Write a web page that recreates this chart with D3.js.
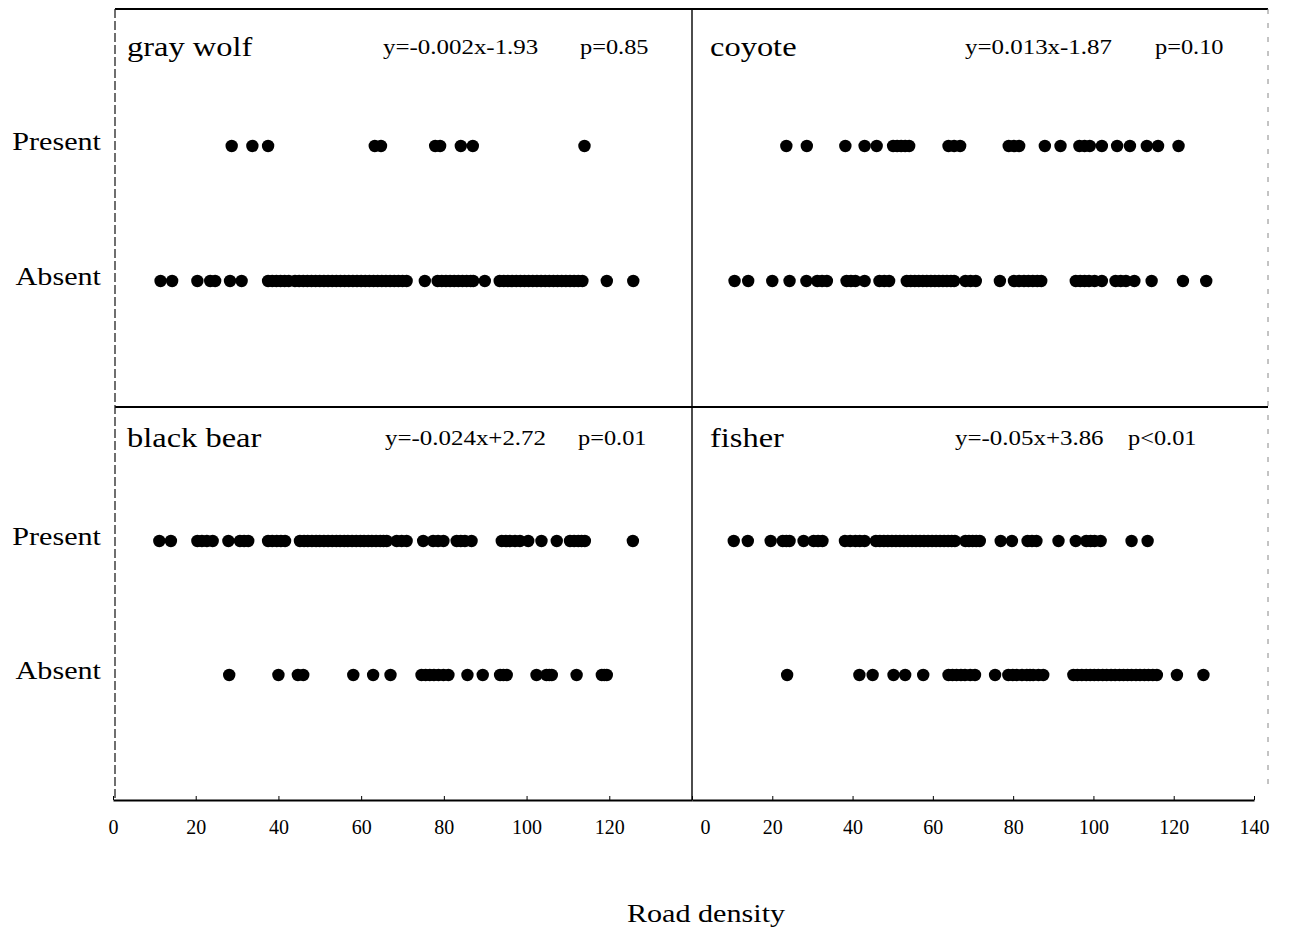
<!DOCTYPE html>
<html>
<head>
<meta charset="utf-8">
<script src="https://cdn.jsdelivr.net/npm/d3@7"></script>
<style>
  html, body { margin: 0; padding: 0; background: #fff; }
  svg { display: block; }
  text { font-family: "Liberation Serif", "Times New Roman", serif; fill: #000; }
</style>
</head>
<body>
<svg id="chart" width="1301" height="932"></svg>
<script>
// Road density at sites where each species was detected (Present) or not (Absent)
const xTicks = [0, 20, 40, 60, 80, 100, 120, 140];
const rowLabels = ["Present", "Absent"];
const speciesNames = ["gray wolf", "coyote", "black bear", "fisher"];
const equations = ["y=-0.002x-1.93", "y=0.013x-1.87", "y=-0.024x+2.72", "y=-0.05x+3.86"];
const pValues = ["p=0.85", "p=0.10", "p=0.01", "p<0.01"];

const grayWolfPresent = [28.7, 33.7, 37.5, 63.3, 64.8, 77.9, 79.1, 84.1, 87.0, 114.0];
const grayWolfAbsent = [11.5, 14.3, 20.4, 23.5, 24.7, 28.3, 31.1,
  37.5, 38.5, 39.5, 40.5, 41.5, 42.5,
  44, 45, 46, 47, 48, 49, 50, 51, 52, 53, 54, 55, 56, 57, 58, 59, 60,
  61, 62, 63, 64, 65, 66, 67, 68, 69, 70, 71,
  75.4, 78.5, 79.5, 80.5, 81.5, 82.5, 83.5, 84.5, 85.5, 86.5, 87.1, 89.9,
  93.5, 94.5, 95.5, 96.5, 97.5, 98.5, 99.5, 100.5, 101.5, 102.5, 103.5, 104.5, 105.5,
  106.5, 107.5, 108.5, 109.5, 110.5, 111.5, 112.5, 113.5, 119.4, 125.8];

const coyotePresent = [23.5, 28.6, 38.2, 43.0, 46.0, 50.1, 51.1, 52.1, 53.1, 54.1, 63.9, 65.3, 66.8,
  78.9, 80.2, 81.5, 87.9, 91.8, 96.5, 97.8, 99.1, 102.1, 105.9, 109.1, 113.3, 116.1, 121.2];
const coyoteAbsent = [10.6, 14.0, 20.0, 24.3, 28.5, 31.2, 32.4, 33.6, 38.5, 39.6, 40.7, 43.0,
  46.7, 47.9, 49.1,
  53.5, 54.5, 55.5, 56.5, 57.5, 58.5, 59.5, 60.5, 61.5, 62.5, 63.5, 64.5, 65.3,
  68.1, 69.4, 70.7, 76.7, 80.2, 81.5, 82.7, 83.8, 84.9, 86.0, 87.0,
  95.6, 96.7, 97.8, 98.9, 100.3, 102.1, 105.5, 106.8, 108.1, 110.2, 114.5, 122.3, 128.1];

const blackBearPresent = [11.2, 14.0, 20.4, 21.5, 22.7, 24.1, 27.9, 30.7, 31.7, 32.7,
  37.5, 38.5, 39.6, 40.6, 41.6,
  45.2, 46.2, 47.1, 48.1, 49.1, 50.0, 51.0, 52.0, 53.0, 54.0, 54.9, 55.9, 56.8, 57.8,
  58.8, 59.8, 60.7, 61.7, 62.6, 63.6, 64.6, 65.4, 66.2, 68.6, 69.8, 71.0,
  75.0, 77.4, 78.6, 79.9, 83.1, 84.1, 85.1, 86.7, 94.0, 95.0, 96.0, 97.2, 98.4,
  100.4, 103.6, 107.3, 110.5, 111.5, 112.5, 113.3, 114.1, 125.7];
const blackBearAbsent = [28.1, 40.0, 44.7, 46.0, 58.1, 62.9, 67.1, 74.6, 75.6, 76.6, 77.6,
  78.7, 79.9, 81.1, 85.7, 89.4, 93.6, 94.4, 95.2, 102.4, 104.8, 105.5, 106.1, 112.1,
  118.2, 118.8, 119.4];

const fisherPresent = [10.4, 13.9, 19.6, 22.6, 23.5, 24.3, 27.8, 30.3, 31.4, 32.5,
  38.1, 39.4, 40.7, 41.8, 43.0,
  45.8, 46.8, 47.8, 48.8, 49.8, 50.8, 51.8, 52.8, 53.8, 54.8, 55.8, 56.8, 57.8, 58.8,
  59.8, 60.8, 61.8, 62.8, 63.8, 64.7, 65.5, 68.1, 69.0, 69.9, 70.8, 71.7,
  76.9, 79.7, 83.6, 84.7, 85.8, 91.3, 95.6, 98.2, 99.3, 100.3, 101.8, 109.5, 113.5];
const fisherAbsent = [23.7, 41.7, 45.0, 50.2, 53.1, 57.6, 63.9, 64.9, 65.9, 67.0, 68.0,
  69.3, 70.5, 75.5, 78.8, 79.9, 80.9, 82.2, 83.4, 84.2, 85.0, 86.3, 87.5,
  95.0, 96.0, 97.1, 98.2, 99.2, 100.2, 101.2, 102.3, 103.3, 104.4, 105.4, 106.5,
  107.5, 108.5, 109.5, 110.6, 111.6, 112.7, 113.7, 114.8, 115.8, 120.8, 127.4];

const presentSets = [grayWolfPresent, coyotePresent, blackBearPresent, fisherPresent];
const absentSets = [grayWolfAbsent, coyoteAbsent, blackBearAbsent, fisherAbsent];

// ---- layout ----
const svg = d3.select("#chart");
const frameLeft = 115, frameMid = 692, frameRight = 1268;
const frameTop = 9, frameMidY = 407, axisY = 800;
const stretch = 1.16; // wide Times-style lettering

const xLeft = d3.scaleLinear().domain([0, 140]).range([113, 692]);
const xRight = d3.scaleLinear().domain([0, 140]).range([692, 1254]);

// text drawn with a horizontal stretch; anchor "start" or "end" or "middle"
function wideText(parent, x, y, str, size, anchor = "start") {
  return parent.append("text")
    .attr("transform", `translate(${x},${y}) scale(${stretch},1)`)
    .attr("text-anchor", anchor)
    .attr("font-size", size)
    .text(str);
}

const panels = speciesNames.map((name, i) => ({
  name,
  eq: equations[i],
  p: pValues[i],
  present: presentSets[i],
  absent: absentSets[i],
  x: i % 2 === 0 ? xLeft : xRight,
  top: i < 2 ? frameTop : frameMidY,
  col: i % 2
}));

const titleX = [127, 710];
const eqX = [[383, 580], [965, 1155], [385, 578], [955, 1128]];

// frame lines
const frame = svg.append("g").attr("fill", "none");
frame.append("line").attr("x1", frameLeft).attr("x2", frameRight)
  .attr("y1", frameTop).attr("y2", frameTop)
  .attr("stroke", "#000").attr("stroke-width", 2.2);
frame.append("line").attr("x1", frameLeft).attr("x2", frameRight)
  .attr("y1", frameMidY).attr("y2", frameMidY)
  .attr("stroke", "#000").attr("stroke-width", 2);
frame.append("line").attr("x1", frameLeft).attr("x2", frameLeft)
  .attr("y1", frameTop).attr("y2", axisY)
  .attr("stroke", "#222").attr("stroke-width", 1.3).attr("stroke-dasharray", "9,3");
frame.append("line").attr("x1", frameMid).attr("x2", frameMid)
  .attr("y1", frameTop).attr("y2", axisY)
  .attr("stroke", "#000").attr("stroke-width", 1.4);
frame.append("line").attr("x1", frameRight).attr("x2", frameRight)
  .attr("y1", frameTop).attr("y2", axisY - 10)
  .attr("stroke", "#888").attr("stroke-width", 1).attr("stroke-dasharray", "5,9");

// panels
panels.forEach((pn, i) => {
  const g = svg.append("g");
  const y = d3.scalePoint().domain(rowLabels)
    .range([pn.top + (i < 2 ? 137 : 134), pn.top + (i < 2 ? 272 : 268)]);

  const ty = pn.top + (i < 2 ? 47 : 40);
  wideText(g, titleX[pn.col], ty, pn.name, 28);
  wideText(g, eqX[i][0], ty - 2, pn.eq, 21.5);
  wideText(g, eqX[i][1], ty - 2, pn.p, 21);

  [["Present", pn.present], ["Absent", pn.absent]].forEach(([lab, vals]) => {
    g.append("g").selectAll("circle").data(vals).join("circle")
      .attr("cx", d => pn.x(d))
      .attr("cy", y(lab))
      .attr("r", 6.2)
      .attr("fill", "#000");
  });

  if (pn.col === 0) {
    rowLabels.forEach(lab => {
      wideText(g, 101, y(lab) + 4, lab, 26, "end");
    });
  }
});

// x axes
function styleAxis(sel) {
  sel.select(".domain").attr("stroke", "#000").attr("stroke-width", 2);
  sel.selectAll(".tick line").attr("stroke", "#000").attr("stroke-width", 1);
  sel.selectAll(".tick text")
    .attr("font-family", "Liberation Serif, Times New Roman, serif")
    .attr("font-size", 20).attr("fill", "#000");
}
const axLeft = svg.append("g").attr("transform", `translate(0,${axisY})`)
  .call(d3.axisBottom(xLeft).tickValues(xTicks.slice(0, -1)).tickSizeInner(-4)
    .tickSizeOuter(0).tickPadding(20));
styleAxis(axLeft);
const axRight = svg.append("g").attr("transform", `translate(0,${axisY})`)
  .call(d3.axisBottom(xRight).tickValues(xTicks).tickSizeInner(-4)
    .tickSizeOuter(0).tickPadding(20));
styleAxis(axRight);
axRight.selectAll(".tick text").filter(d => d === 0).attr("dx", 13);

wideText(svg, 706, 922, "Road density", 26, "middle");
</script>
</body>
</html>
